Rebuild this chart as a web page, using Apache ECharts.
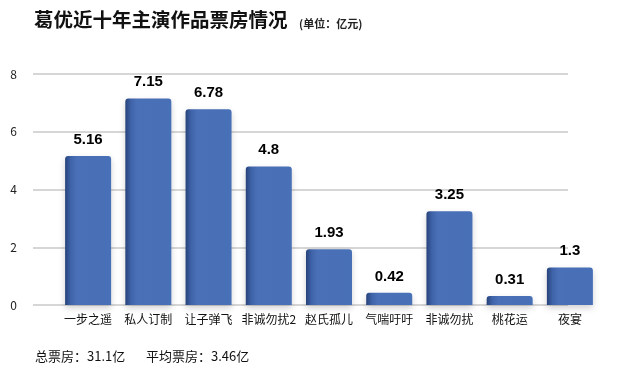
<!DOCTYPE html>
<html>
<head>
<meta charset="utf-8">
<script src="https://cdn.jsdelivr.net/npm/echarts@6/dist/echarts.min.js"></script>
<style>
  html, body { margin: 0; padding: 0; background: #fff; }
  #chart { width: 620px; height: 377px; }
</style>
</head>
<body>
<div id="chart"></div>
<script>
const films = ['一步之遥', '私人订制', '让子弹飞', '非诚勿扰2', '赵氏孤儿', '气喘吁吁', '非诚勿扰', '桃花运', '夜宴']
const boxOffice = [5.16, 7.15, 6.78, 4.8, 1.93, 0.42, 3.25, 0.31, 1.3]
const totalText = '总票房：31.1亿'
const avgText = '平均票房：3.46亿'

const font = '"Noto Sans CJK SC", "Noto Sans", sans-serif'

const chart = echarts.init(document.getElementById('chart'))

chart.setOption({
  animation: false,
  backgroundColor: '#fff',
  title: [
    {
      text: '葛优近十年主演作品票房情况',
      left: 29,
      top: 5,
      textStyle: { fontSize: 19.5, fontWeight: 'bold', color: '#111', fontFamily: font }
    },
    {
      text: '(单位：亿元)',
      left: 294,
      top: 13,
      textStyle: { fontSize: 11, fontWeight: 'bold', color: '#222', fontFamily: font }
    },
    {
      text: totalText,
      left: 30,
      top: 345,
      textStyle: { fontSize: 13, fontWeight: 'normal', color: '#111', fontFamily: font }
    },
    {
      text: avgText,
      left: 141,
      top: 345,
      textStyle: { fontSize: 13, fontWeight: 'normal', color: '#111', fontFamily: font }
    }
  ],
  grid: [
    { left: 33, right: 52, top: 74, bottom: 72 },
    { left: 58, right: 20, top: 74, bottom: 72 }
  ],
  xAxis: [
    { gridIndex: 0, type: 'category', data: films, show: false },
    {
      gridIndex: 1,
      type: 'category',
      data: films,
      axisLine: { show: false },
      axisTick: { show: false },
      axisLabel: { interval: 0, color: '#111', fontSize: 12, margin: 8, fontFamily: font }
    }
  ],
  yAxis: [
    {
      gridIndex: 0,
      type: 'value',
      min: 0,
      max: 8,
      interval: 2,
      axisLine: { show: false },
      axisTick: { show: false },
      axisLabel: { color: '#222', fontSize: 12, margin: 16, fontFamily: font },
      splitLine: { lineStyle: { color: '#c8c8c8', width: 1.5 } }
    },
    {
      gridIndex: 1,
      type: 'value',
      min: 0,
      max: 8,
      interval: 2,
      show: false
    }
  ],
  series: [
    {
      type: 'bar',
      xAxisIndex: 1,
      yAxisIndex: 1,
      data: boxOffice,
      barWidth: 46,
      itemStyle: {
        borderRadius: [3, 3, 0, 0],
        color: new echarts.graphic.LinearGradient(0, 0, 1, 0, [
          { offset: 0, color: '#26427a' },
          { offset: 0.12, color: '#3f63a8' },
          { offset: 0.25, color: '#4a70b8' },
          { offset: 1, color: '#4870b6' }
        ]),
        shadowBlur: 6,
        shadowColor: 'rgba(0,0,0,0.18)',
        shadowOffsetY: 3
      },
      label: {
        show: true,
        position: 'top',
        distance: 9,
        color: '#000',
        fontSize: 15,
        fontWeight: 'bold',
        fontFamily: '"Liberation Sans", Arial, sans-serif'
      }
    }
  ]
})
</script>
</body>
</html>
